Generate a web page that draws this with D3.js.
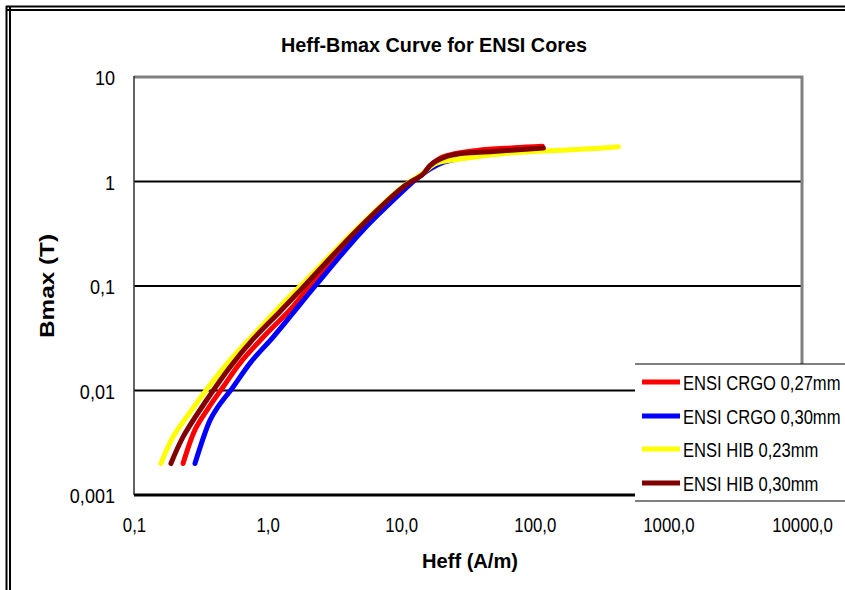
<!DOCTYPE html>
<html>
<head>
<meta charset="utf-8">
<title>Heff-Bmax Curve for ENSI Cores</title>
<style>
  body { margin: 0; background: #fff; }
  text { font-family: "Liberation Sans", Arial, sans-serif; fill: #000; }
</style>
</head>
<body>
<script src="https://cdn.jsdelivr.net/npm/d3@7/dist/d3.min.js"></script>
<script>
// values
var seriesNames = ["ENSI CRGO 0,27mm", "ENSI CRGO 0,30mm", "ENSI HIB 0,23mm", "ENSI HIB 0,30mm"];
var seriesColors = ["#ff0000", "#0000ff", "#ffff00", "#800000"];

var crgo27H = [0.233, 0.286, 0.352, 0.464, 0.622, 0.992, 1.47, 2.08, 4.9, 10.7, 14.5, 17, 20.6, 37.1, 70, 114];
var crgo27B = [0.002, 0.0042, 0.0065, 0.0108, 0.0183, 0.0355, 0.0589, 0.1, 0.344, 0.886, 1.18, 1.47, 1.72, 1.98, 2.1, 2.17];

var crgo30H = [0.286, 0.371, 0.426, 0.552, 0.739, 1.10, 1.55, 2.27, 5.19, 11.1, 13.2, 16.5, 20.6, 26.3];
var crgo30B = [0.002, 0.0052, 0.007, 0.0108, 0.0183, 0.0325, 0.0552, 0.1, 0.344, 0.886, 1.08, 1.32, 1.52, 1.64];

var hib23H = [0.159, 0.196, 0.263, 0.371, 0.524, 0.834, 1.31, 1.81, 4.55, 10.2, 14.5, 18, 27.7, 65.5, 155, 300, 422];
var hib23B = [0.002, 0.0036, 0.0062, 0.0113, 0.0195, 0.037, 0.0688, 0.104, 0.344, 0.886, 1.2, 1.48, 1.64, 1.87, 1.99, 2.08, 2.15];

var hib30H = [0.189, 0.233, 0.352, 0.524, 0.779, 1.24, 1.84, 4.68, 10.35, 14.6, 16.5, 19.6, 24.5, 48.9, 116];
var hib30B = [0.002, 0.0036, 0.0082, 0.0168, 0.031, 0.057, 0.097, 0.344, 0.886, 1.18, 1.43, 1.64, 1.81, 1.94, 2.09];

var xTickValues = [0.1, 1, 10, 100, 1000, 10000];
var xTickLabels = ["0,1", "1,0", "10,0", "100,0", "1000,0", "10000,0"];
var yTickValues = [0.001, 0.01, 0.1, 1, 10];
var yTickLabels = ["0,001", "0,01", "0,1", "1", "10"];

var seriesH = [crgo27H, crgo30H, hib23H, hib30H];
var seriesB = [crgo27B, crgo30B, hib23B, hib30B];

var width = 845, height = 590;
var plotLeft = 134, plotRight = 802, plotTop = 77, plotBottom = 495;

var svg = d3.select("body").append("svg")
  .attr("width", width)
  .attr("height", height);

svg.append("rect").attr("width", width).attr("height", height).attr("fill", "#fff");

// squeeze text horizontally like the narrow Excel rendering
function squeeze(sel, f) {
  sel.each(function() {
    var t = d3.select(this);
    var x0 = +t.attr("x") || 0;
    t.attr("x", x0 / f).attr("transform", "scale(" + f + ",1)");
  });
}

// outer frame (double line on top and left)
[6.5, 10].forEach(function(p) {
  svg.append("line").attr("x1", p).attr("x2", p).attr("y1", 6).attr("y2", height)
    .attr("stroke", "#000").attr("stroke-width", 2);
});
[6.5, 10].forEach(function(p) {
  svg.append("line").attr("x1", 6).attr("x2", width).attr("y1", p).attr("y2", p)
    .attr("stroke", "#000").attr("stroke-width", 2);
});

var x = d3.scaleLog().domain([0.1, 10000]).range([plotLeft, plotRight]);
var y = d3.scaleLog().domain([0.001, 10]).range([plotBottom, plotTop]);

// gridlines
svg.append("g").selectAll("line")
  .data([0.01, 0.1, 1])
  .enter().append("line")
  .attr("x1", plotLeft).attr("x2", plotRight)
  .attr("y1", function(d) { return y(d); })
  .attr("y2", function(d) { return y(d); })
  .attr("stroke", "#000")
  .attr("stroke-width", 2);

// plot border: gray top and right, thin left, thick bottom
svg.append("path")
  .attr("d", "M" + plotLeft + "," + plotTop + "H" + plotRight + "V" + plotBottom)
  .attr("fill", "none").attr("stroke", "#808080").attr("stroke-width", 3);
svg.append("line").attr("x1", plotLeft).attr("x2", plotLeft).attr("y1", plotTop - 1).attr("y2", plotBottom)
  .attr("stroke", "#303030").attr("stroke-width", 1.5);
svg.append("line").attr("x1", plotLeft).attr("x2", plotRight).attr("y1", plotBottom).attr("y2", plotBottom)
  .attr("stroke", "#000").attr("stroke-width", 3);

// axes
var xAxis = svg.append("g")
  .attr("transform", "translate(0," + plotBottom + ")")
  .call(d3.axisBottom(x).tickValues(xTickValues).tickSize(0)
    .tickFormat(function(d, i) { return xTickLabels[i]; }));
xAxis.select(".domain").remove();
xAxis.selectAll("text")
  .attr("y", 37).attr("dy", 0)
  .style("font-size", "21px")
  .style("font-family", "'Liberation Sans', Arial, sans-serif")
  .call(squeeze, 0.8);

var yAxis = svg.append("g")
  .attr("transform", "translate(" + plotLeft + ",0)")
  .call(d3.axisLeft(y).tickValues(yTickValues).tickSize(0)
    .tickFormat(function(d, i) { return yTickLabels[i]; }));
yAxis.select(".domain").remove();
yAxis.selectAll("text")
  .attr("x", -19).attr("dy", "0.36em")
  .style("font-size", "21px")
  .style("font-family", "'Liberation Sans', Arial, sans-serif")
  .call(squeeze, 0.86);

// curves
var line = d3.line()
  .x(function(d) { return x(d[0]); })
  .y(function(d) { return y(d[1]); })
  .curve(d3.curveCatmullRom.alpha(0.5));

seriesNames.forEach(function(name, i) {
  var pts = seriesH[i].map(function(h, j) { return [h, seriesB[i][j]]; });
  svg.append("path")
    .datum(pts)
    .attr("d", line)
    .attr("fill", "none")
    .attr("stroke", seriesColors[i])
    .attr("stroke-width", 5)
    .attr("stroke-linecap", "round")
    .attr("stroke-linejoin", "round");
});

// titles
svg.append("text")
  .attr("x", 434).attr("y", 52)
  .attr("text-anchor", "middle")
  .style("font-size", "21px").style("font-weight", "bold")
  .attr("textLength", 306).attr("lengthAdjust", "spacingAndGlyphs")
  .text("Heff-Bmax Curve for ENSI Cores");

svg.append("text")
  .attr("x", 470).attr("y", 568)
  .attr("text-anchor", "middle")
  .style("font-size", "21px").style("font-weight", "bold")
  .attr("textLength", 96).attr("lengthAdjust", "spacingAndGlyphs")
  .text("Heff (A/m)");

svg.append("text")
  .attr("transform", "translate(54,286) rotate(-90)")
  .attr("text-anchor", "middle")
  .style("font-size", "21px").style("font-weight", "bold")
  .attr("textLength", 104).attr("lengthAdjust", "spacingAndGlyphs")
  .text("Bmax (T)");

// legend
var legend = svg.append("g").attr("transform", "translate(635,364)");
legend.append("rect")
  .attr("width", width - 635 + 5).attr("height", 137)
  .attr("fill", "#fff");
[0, 137].forEach(function(p) {
  legend.append("line").attr("x1", 0).attr("x2", width - 635).attr("y1", p).attr("y2", p)
    .attr("stroke", "#000").attr("stroke-width", 1.2);
});
var rowY = [18, 52, 85, 119];
var item = legend.selectAll(".item")
  .data(seriesNames)
  .enter().append("g")
  .attr("class", "item")
  .attr("transform", function(d, i) { return "translate(0," + rowY[i] + ")"; });
item.append("line")
  .attr("x1", 7).attr("x2", 45)
  .attr("stroke", function(d, i) { return seriesColors[i]; })
  .attr("stroke-width", 5);
item.append("text")
  .attr("x", 48).attr("dy", "0.36em")
  .style("font-size", "21px")
  .text(function(d) { return d; })
  .call(squeeze, 0.79);
</script>
</body>
</html>
